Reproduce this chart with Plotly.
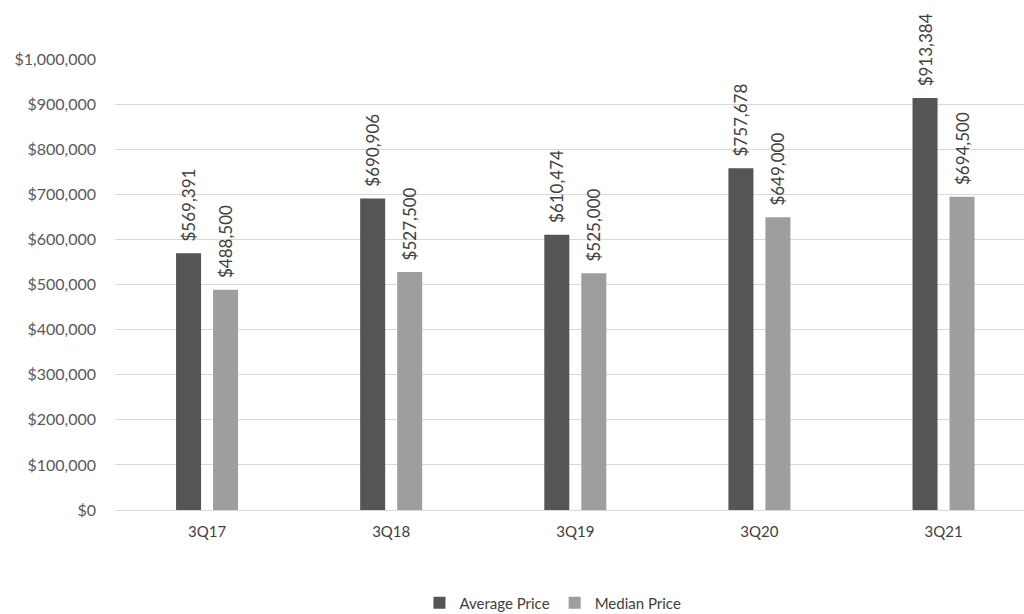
import plotly.graph_objects as go

quarters = ["3Q17", "3Q18", "3Q19", "3Q20", "3Q21"]
average_price = [569391, 690906, 610474, 757678, 913384]
median_price = [488500, 527500, 525000, 649000, 694500]
y_ticks = [0, 100000, 200000, 300000, 400000, 500000, 600000, 700000, 800000, 900000, 1000000]

FONT = "Lato"
TEXT_COLOR = "#404040"


def money(v):
    return "${:,}".format(v)


fig = go.Figure()
for name, values, color in [
    ("Average Price", average_price, "#555555"),
    ("Median Price", median_price, "#9e9e9e"),
]:
    fig.add_trace(go.Bar(
        name=name,
        x=quarters,
        y=values,
        marker=dict(color=color, line=dict(width=0)),
        # leading spaces lift the rotated label off the bar top
        text=["\u00a0\u00a0" + money(v) for v in values],
        textposition="outside",
        textangle=-90,
        constraintext="none",
        textfont=dict(family=FONT, size=17, color=TEXT_COLOR),
        cliponaxis=False,
    ))

fig.update_layout(
    width=1024,
    height=614,
    margin=dict(l=115, r=0, t=59, b=104),
    paper_bgcolor="white",
    plot_bgcolor="white",
    barmode="group",
    bargap=0.598,
    bargroupgap=0.324,
    font=dict(family=FONT, color=TEXT_COLOR),
    showlegend=True,
    legend=dict(
        orientation="h",
        x=0.540,
        xanchor="center",
        xref="container",
        y=0.018,
        yref="container",
        yanchor="middle",
        font=dict(family=FONT, size=15, color=TEXT_COLOR),
        itemwidth=30,
    ),
    xaxis=dict(
        range=[-0.5, 4.437],
        showgrid=False,
        showline=False,
        ticks="",
        ticklabelstandoff=11,
        tickfont=dict(family=FONT, size=15, color=TEXT_COLOR),
    ),
    yaxis=dict(
        range=[0, 1000000],
        tickvals=y_ticks,
        ticktext=[money(v) for v in y_ticks],
        gridcolor="#d9d9d9",
        gridwidth=1,
        zeroline=True,
        zerolinecolor="#d9d9d9",
        zerolinewidth=1,
        ticks="",
        ticklabelstandoff=18,
        tickfont=dict(family=FONT, size=16, color="#595959"),
    ),
)

fig.write_html("out.html")
